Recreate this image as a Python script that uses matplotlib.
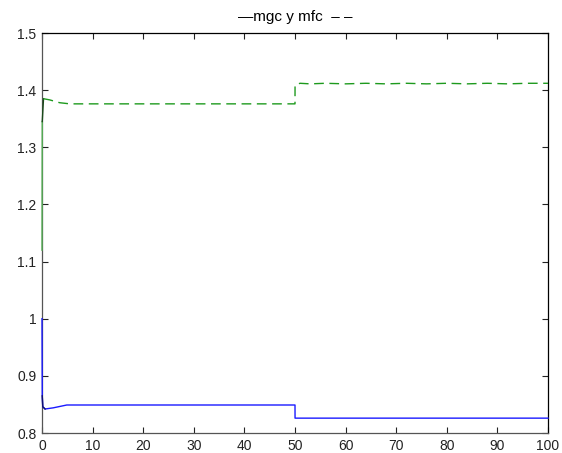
import matplotlib
matplotlib.use("Agg")
import matplotlib.pyplot as plt

# blue series (mgc)
t_mgc = [0, 0.05, 0.15, 0.6, 2.2, 4.9, 50, 50.01, 100]
v_mgc = [1.0, 0.865, 0.846, 0.842, 0.844, 0.849, 0.849, 0.826, 0.826]

# green dashed series (mfc)
t_mfc = [0, 0.05, 0.3, 1.5, 3.5, 5.5, 50, 50.01, 51, 53, 56, 60, 64, 68, 72, 76, 80, 84, 88, 92, 96, 100]
v_mfc = [1.12, 1.345, 1.385, 1.383, 1.378, 1.376, 1.376, 1.409, 1.412, 1.411, 1.412, 1.411, 1.412, 1.411,
         1.412, 1.411, 1.412, 1.411, 1.412, 1.411, 1.412, 1.412]

x_ticks = [0, 10, 20, 30, 40, 50, 60, 70, 80, 90, 100]
y_ticks = [0.8, 0.9, 1.0, 1.1, 1.2, 1.3, 1.4, 1.5]
y_labels = ["0.8", "0.9", "1", "1.1", "1.2", "1.3", "1.4", "1.5"]
title = "\u2014mgc y mfc  \u2013 \u2013"

plt.rcParams['font.family'] = ['Liberation Sans', 'DejaVu Sans']
fig = plt.figure(figsize=(5.62, 4.53), dpi=100)
ax = fig.add_axes([42/562, 1-433/453, (548-42)/562, (433-33)/453])

kw = dict(lw=1.0, zorder=4, clip_on=False)
# solid initial rise of mfc, then dashed remainder
ax.plot(t_mfc[:2], v_mfc[:2], color='#55b055', **kw)
ax.plot(t_mfc[1:3], v_mfc[1:3], color='#1a4a1a', **kw)
ax.plot(t_mfc[2:], v_mfc[2:], color='#1e9a1e', dashes=(7, 4), **kw)
ax.plot(t_mgc, v_mgc, color='#1a1aff', **kw)
ax.plot(t_mgc[1:4], v_mgc[1:4], color='#101070', **kw)

ax.set_xlim(0, 100)
ax.set_ylim(0.8, 1.5)
ax.set_xticks(x_ticks)
ax.set_yticks(y_ticks)
ax.set_yticklabels(y_labels)
ax.tick_params(direction='in', length=4, width=0.8, top=True, right=True,
               labelsize=10, colors='#222222', pad=4)
for s in ax.spines.values():
    s.set_linewidth(0.9)
ax.spines['left'].set_color('#555555')
ax.spines['bottom'].set_color('#555555')
ax.set_title(title, fontsize=11, pad=9)

fig.savefig("out.png", dpi=100, facecolor='white')
